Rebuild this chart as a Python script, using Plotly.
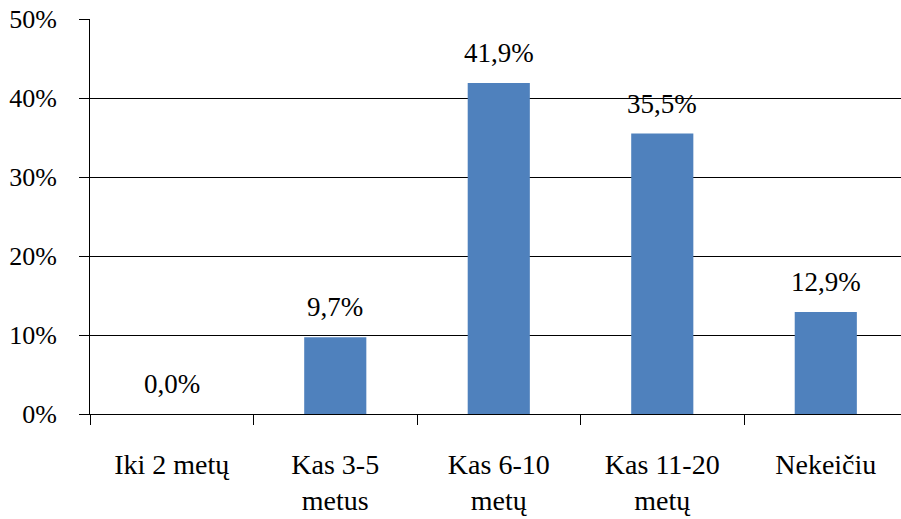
import plotly.graph_objects as go

categories = ["Iki 2 metų", "Kas 3-5<br>metus", "Kas 6-10<br>metų", "Kas 11-20<br>metų", "Nekeičiu"]
values = [0.0, 9.7, 41.9, 35.5, 12.9]
value_labels = ["0,0%", "9,7%", "41,9%", "35,5%", "12,9%"]
y_ticks = [0, 10, 20, 30, 40, 50]
y_tick_labels = ["0%", "10%", "20%", "30%", "40%", "50%"]

FONT = "'Times New Roman', 'Liberation Serif', serif"
BAR_COLOR = "#4F81BD"

fig = go.Figure()
fig.add_trace(go.Bar(
    x=categories,
    y=values,
    marker=dict(color=BAR_COLOR, line=dict(width=0)),
    width=0.38,
    hoverinfo="skip",
))

# value labels above each bar
for cat, v, lab in zip(categories, values, value_labels):
    fig.add_annotation(
        x=cat, y=v, xref="x", yref="y",
        text=lab, showarrow=False,
        yanchor="middle", yshift=30,
        font=dict(family=FONT, size=27, color="#000000"),
    )

fig.update_layout(
    width=901, height=519,
    margin=dict(l=90, r=0, t=19, b=105),
    paper_bgcolor="white",
    plot_bgcolor="white",
    showlegend=False,
    font=dict(family=FONT, size=27, color="#000000"),
    bargap=0.62,
)

fig.update_xaxes(
    type="category",
    range=[-0.5, 4.46],
    showgrid=False,
    showline=True, linecolor="#000000", linewidth=1,
    ticks="outside", ticklen=10, tickcolor="#000000", tickwidth=1,
    tickson="boundaries",
    ticklabelstandoff=25,
    tickfont=dict(family=FONT, size=28, color="#000000"),
    fixedrange=True,
)

fig.update_yaxes(
    range=[0, 50],
    tickvals=y_ticks,
    ticktext=y_tick_labels,
    showgrid=True, gridcolor="#000000", gridwidth=1,
    showline=True, linecolor="#000000", linewidth=1,
    ticks="outside", ticklen=10, tickcolor="#000000", tickwidth=1,
    ticklabelstandoff=17,
    zeroline=False,
    tickfont=dict(family=FONT, size=26, color="#000000"),
    fixedrange=True,
)

fig.write_html("out.html")
